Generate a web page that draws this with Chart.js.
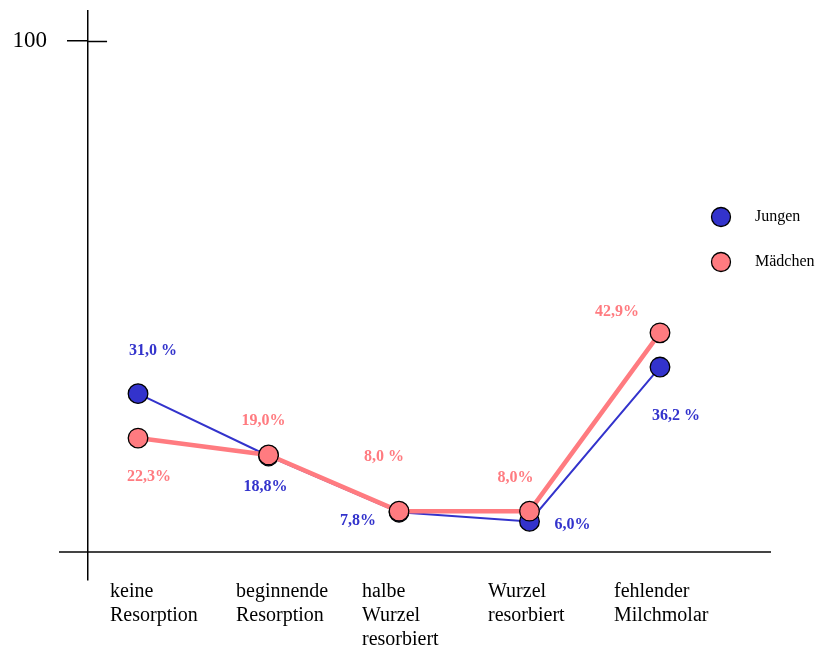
<!DOCTYPE html>
<html>
<head>
<meta charset="utf-8">
<title>Wurzelresorption – Jungen und Mädchen</title>
<script src="https://cdn.jsdelivr.net/npm/chart.js@4/dist/chart.umd.min.js"></script>
<style>
  html, body { margin: 0; padding: 0; background: #ffffff; }
  canvas { display: block; }
</style>
</head>
<body>
<canvas id="chart" width="818" height="651"></canvas>
<script>
// Resorptionsstadien (x-Achse, mehrzeilig)
const categories = [
  ['keine', 'Resorption'],
  ['beginnende', 'Resorption'],
  ['halbe', 'Wurzel', 'resorbiert'],
  ['Wurzel', 'resorbiert'],
  ['fehlender', 'Milchmolar']
];
const seriesNames = ['Jungen', 'Mädchen'];
// Anteile in Prozent
const jungen = [31.0, 18.8, 7.8, 6.0, 36.2];
const maedchen = [22.3, 19.0, 8.0, 8.0, 42.9];
// beschriftete Werte der y-Achse
const yTicks = [100];

const SERIF = '"Liberation Serif", "Times New Roman", serif';
const BLUE = '#3333cc';
const PINK = '#ff7b80';

// y-range and x-range chosen so the axes cross with a small overhang
const Y_MIN = -5.47, Y_MAX = 105.86;
const X_MIN = -0.598, X_MAX = 4.843;
const Y_AXIS_AT = -0.383;

const toPoints = arr => arr.map((v, i) => ({ x: i, y: v }));
const fmt = (v, spaced) => v.toFixed(1).replace('.', ',') + (spaced ? ' %' : '%');
const noEdgePadding = s => { s.paddingTop = 0; s.paddingBottom = 0; };

// Prozentwerte neben den Punkten
const valueLabels = {
  id: 'valueLabels',
  afterDatasetsDraw(chart) {
    const ctx = chart.ctx;
    chart.data.datasets.forEach((ds, di) => {
      const meta = chart.getDatasetMeta(di);
      meta.data.forEach((pt, i) => {
        const [dx, dy] = ds.labelOffsets[i];
        ctx.save();
        ctx.font = 'bold 16px ' + SERIF;
        ctx.fillStyle = ds.labelColor;
        ctx.textAlign = 'center';
        ctx.textBaseline = 'middle';
        ctx.fillText(fmt(ds.data[i].y, ds.labelSpaced[i]), pt.x + dx, pt.y + dy);
        ctx.restore();
      });
    });
  }
};

// inner half of the crossing tick mark on the y-axis
const crossTicks = {
  id: 'crossTicks',
  afterDraw(chart) {
    const ctx = chart.ctx;
    const xs = chart.scales.x, ys = chart.scales.y;
    const x0 = xs.getPixelForValue(Y_AXIS_AT);
    ctx.save();
    ctx.strokeStyle = '#000';
    ctx.lineWidth = 1.5;
    yTicks.forEach(t => {
      const py = Math.round(ys.getPixelForValue(t)) + 0.5;
      ctx.beginPath();
      ctx.moveTo(x0, py);
      ctx.lineTo(x0 + 19, py);
      ctx.stroke();
    });
    ctx.restore();
  }
};

// Legende rechts
const sideLegend = {
  id: 'sideLegend',
  afterDraw(chart, args, opts) {
    const ctx = chart.ctx;
    chart.data.datasets.forEach((ds, i) => {
      const cx = opts.x, cy = opts.y + i * opts.gap;
      ctx.save();
      ctx.beginPath();
      ctx.arc(cx, cy, 9.5, 0, Math.PI * 2);
      ctx.fillStyle = ds.pointBackgroundColor;
      ctx.fill();
      ctx.lineWidth = 1.3;
      ctx.strokeStyle = '#000';
      ctx.stroke();
      ctx.font = '16px ' + SERIF;
      ctx.fillStyle = '#000';
      ctx.textAlign = 'left';
      ctx.textBaseline = 'middle';
      ctx.fillText(ds.label, opts.textX, cy);
      ctx.restore();
    });
  }
};

new Chart(document.getElementById('chart'), {
  type: 'line',
  data: {
    datasets: [
      {
        label: seriesNames[0],
        data: toPoints(jungen),
        borderColor: BLUE,
        borderWidth: 2,
        pointBackgroundColor: BLUE,
        pointBorderColor: '#000',
        pointBorderWidth: 1.3,
        pointRadius: 9.8,
        tension: 0,
        order: 2,
        labelColor: BLUE,
        labelSpaced: [true, false, false, false, true],
        labelOffsets: [[15, -43], [-3, 31], [-41, 9], [43, 3], [16, 49]]
      },
      {
        label: seriesNames[1],
        data: toPoints(maedchen),
        borderColor: PINK,
        borderWidth: 4.5,
        pointBackgroundColor: PINK,
        pointBorderColor: '#000',
        pointBorderWidth: 1.3,
        pointRadius: 9.8,
        tension: 0,
        order: 1,
        labelColor: PINK,
        labelSpaced: [false, false, true, false, false],
        labelOffsets: [[11, 39], [-5, -34], [-15, -54], [-14, -33], [-43, -21]]
      }
    ]
  },
  options: {
    responsive: false,
    animation: false,
    clip: false,
    layout: { padding: { left: 0, right: 48, top: 10, bottom: 71 } },
    plugins: {
      legend: { display: false },
      tooltip: { enabled: false },
      sideLegend: { x: 721, y: 217, gap: 45, textX: 755 }
    },
    scales: {
      x: {
        type: 'linear',
        min: X_MIN, max: X_MAX,
        position: { y: 0 },
        grid: { display: false, drawTicks: false },
        border: { display: true, color: '#444', width: 2 },
        ticks: { display: false }
      },
      xl: {
        type: 'linear',
        axis: 'x',
        min: -0.397, max: 5.238,
        position: { y: 0 },
        grid: { display: false, drawTicks: false },
        border: { display: false },
        afterBuildTicks: s => { s.ticks = categories.map((_, i) => ({ value: i })); },
        ticks: {
          align: 'start',
          autoSkip: false,
          minRotation: 0,
          maxRotation: 0,
          padding: 28,
          color: '#000',
          font: { family: SERIF, size: 20, lineHeight: 1.2 },
          callback: v => categories[v]
        }
      },
      y: {
        type: 'linear',
        min: Y_MIN, max: Y_MAX,
        position: { x: Y_AXIS_AT },
        afterBuildTicks: s => { s.ticks = yTicks.map(v => ({ value: v })); },
        afterFit: noEdgePadding,
        grid: { display: true, drawOnChartArea: false, drawTicks: true, tickLength: 20, color: '#000', lineWidth: 1.5 },
        border: { display: true, color: '#000', width: 1.5 },
        ticks: { display: false }
      },
      yl: {
        type: 'linear',
        axis: 'y',
        position: 'left',
        min: Y_MIN, max: Y_MAX,
        afterBuildTicks: s => { s.ticks = yTicks.map(v => ({ value: v })); },
        afterFit: s => { s.width = 60; noEdgePadding(s); },
        grid: { display: false, drawTicks: false },
        border: { display: false },
        ticks: { padding: 13, color: '#000', font: { family: SERIF, size: 23 } }
      }
    }
  },
  plugins: [valueLabels, crossTicks, sideLegend]
});
</script>
</body>
</html>
